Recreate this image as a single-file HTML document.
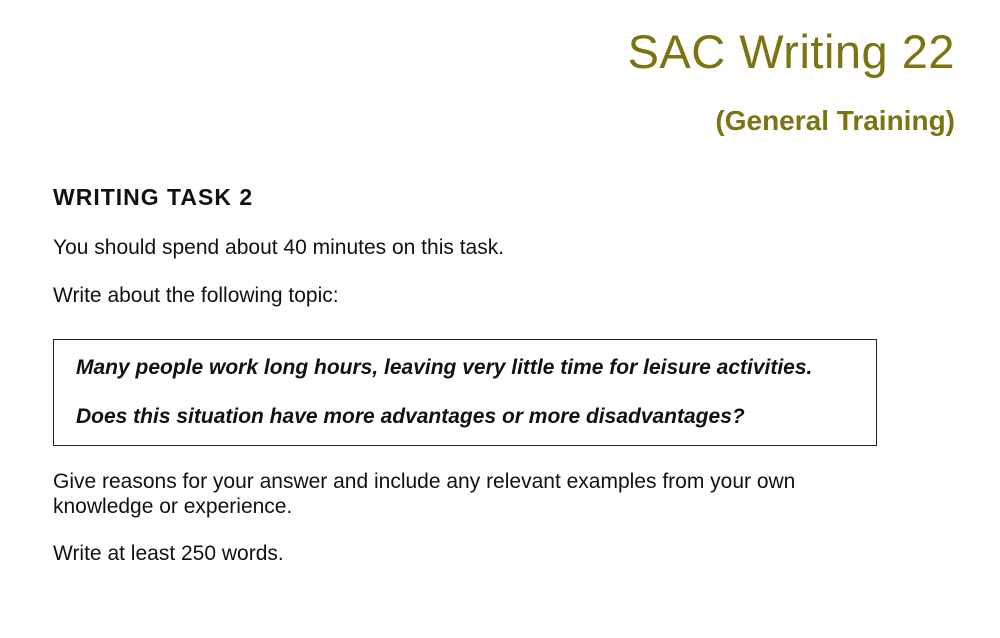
<!DOCTYPE html>
<html><head><meta charset="utf-8"><style>
body{margin:0;width:1000px;height:638px;background:#fff;position:relative;overflow:hidden;font-family:"Liberation Sans",Arial,sans-serif;color:#111}
.a{position:absolute;white-space:nowrap}
</style></head><body>
<div class="a" style="right:45px;top:24px;font-size:47px;color:#7b7410;letter-spacing:0.5px">SAC Writing 22</div>
<div class="a" style="right:45px;top:105px;font-size:28px;font-weight:bold;color:#7b7410">(General Training)</div>
<div class="a" style="left:53px;top:184px;font-size:23px;font-weight:bold;letter-spacing:1px">WRITING TASK 2</div>
<div class="a" style="left:53px;top:236px;font-size:21px">You should spend about 40 minutes on this task.</div>
<div class="a" style="left:53px;top:284px;font-size:21px">Write about the following topic:</div>
<div class="a" style="left:53px;top:339px;width:822px;height:105px;border:1.5px solid #222"></div>
<div class="a" style="left:76px;top:356px;font-size:21px;font-weight:bold;font-style:italic">Many people work long hours, leaving very little time for leisure activities.</div>
<div class="a" style="left:76px;top:405px;font-size:21px;font-weight:bold;font-style:italic">Does this situation have more advantages or more disadvantages?</div>
<div class="a" style="left:53px;top:469px;font-size:21px;line-height:25px">Give reasons for your answer and include any relevant examples from your own<br>knowledge or experience.</div>
<div class="a" style="left:53px;top:542px;font-size:21px">Write at least 250 words.</div>
</body></html>
